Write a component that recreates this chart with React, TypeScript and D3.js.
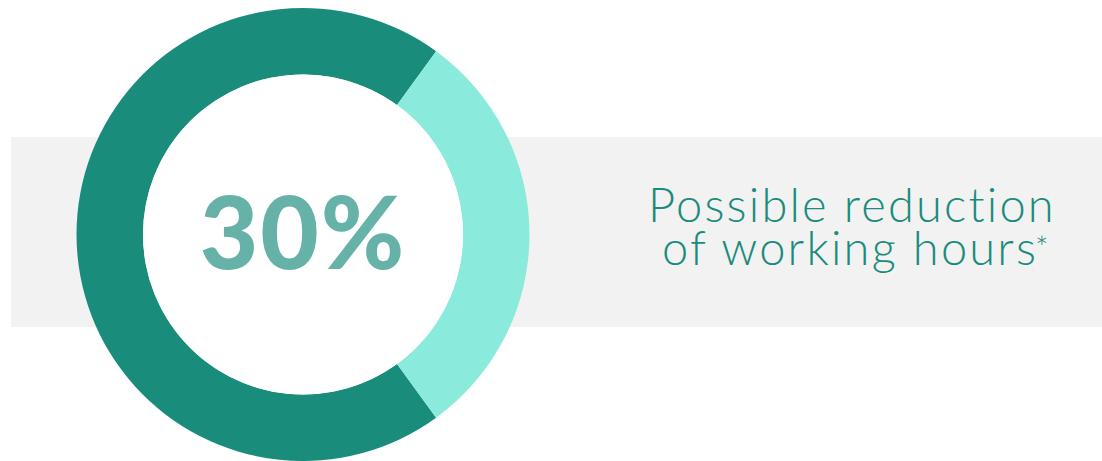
import React from "react";
import * as d3 from "d3";

const segments = ["Other", "Possible reduction"];
const values = [70, 30];
const colors = ["#1a8c7c", "#8aeadc"];
const bigLabel = "30%";
const textLines = ["Possible reduction", "of working hours"];
const footnoteMark = "*";

export default function App() {
  const W = 1102, H = 461;
  const cx = 303, cy = 234.5, R = 226.5, r = 160;
  const start = Math.PI / 2 + (values[1] / 200) * 2 * Math.PI;
  const pie = d3.pie<number>().sort(null).startAngle(start).endAngle(start + 2 * Math.PI);
  const arcs = pie(values);
  const arc = d3.arc<d3.PieArcDatum<number>>().innerRadius(r).outerRadius(R);
  return (
    <svg width={W} height={H} style={{ position: "absolute", left: 0, top: 0 }}>
      <rect x={11} y={137} width={W - 11} height={190} fill="#f2f2f2" />
      <g transform={`translate(${cx},${cy})`}>
        {arcs.map((a, i) => (
          <path key={segments[i]} d={arc(a) || ""} fill={colors[i]} />
        ))}
        <circle r={r} fill="#ffffff" />
        <text x={0} y={34} textAnchor="middle" fontFamily="Lato" fontWeight={900} fontSize={101} letterSpacing={2} fill="#66b2a8">
          {bigLabel}
        </text>
      </g>
      <text x={852} y={222} textAnchor="middle" fontFamily="Lato" fontWeight={300} fontSize={47} fill="#1a8c7c" letterSpacing={2.2}>
        {textLines[0]}
      </text>
      <text x={850} y={265} textAnchor="middle" fontFamily="Lato" fontWeight={300} fontSize={47} fill="#1a8c7c" letterSpacing={2.2}>
        {textLines[1]}
      </text>
      <text x={1035} y={259} fontFamily="Lato" fontWeight={300} fontSize={32} fill="#1a8c7c">
        {footnoteMark}
      </text>
    </svg>
  );
}
